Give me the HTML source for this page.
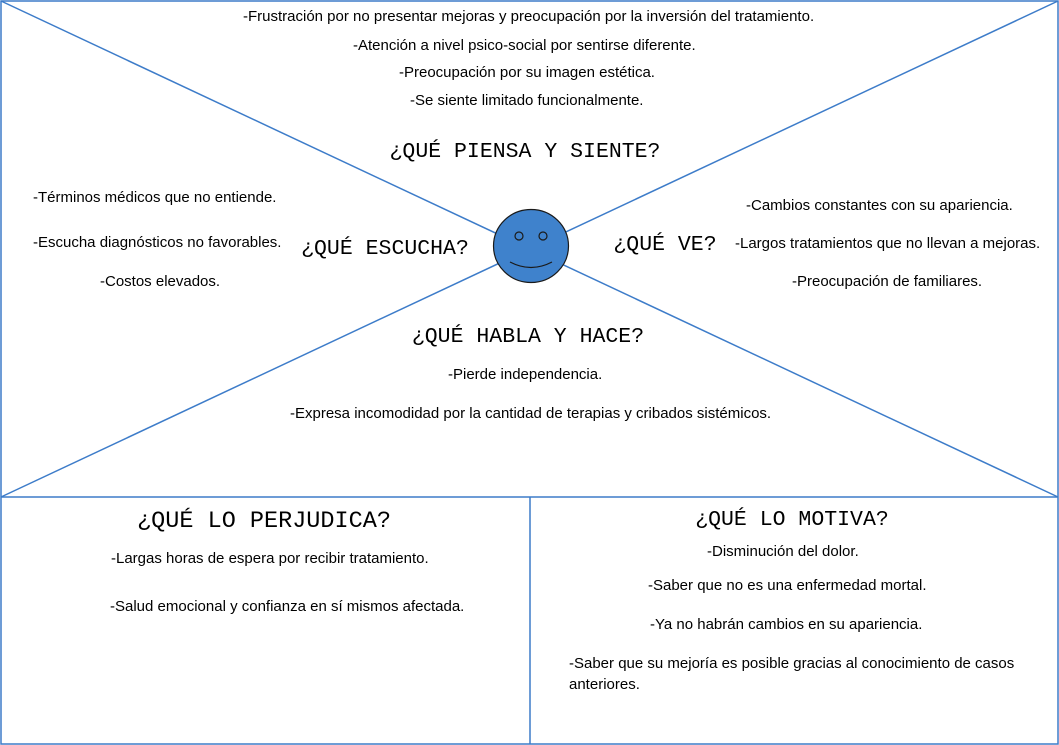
<!DOCTYPE html>
<html><head><meta charset="utf-8"><style>
html,body{margin:0;padding:0;background:#fff;}
svg{display:block;}
.b{font-family:"Liberation Sans",Arial,sans-serif;font-size:15px;fill:#000;}
.h{font-family:"Liberation Mono","Courier New",monospace;font-size:21.5px;fill:#000;}
</style></head><body>
<svg width="1059" height="745" viewBox="0 0 1059 745" xmlns="http://www.w3.org/2000/svg">
<g stroke="#3d7cc9" stroke-width="1.5" fill="none">
<rect x="1" y="1" width="1057" height="743"/>
<line x1="1" y1="497" x2="1058" y2="497"/>
<line x1="530" y1="497" x2="530" y2="744"/>
<line x1="1" y1="1" x2="1058" y2="497"/>
<line x1="1" y1="497" x2="1058" y2="1"/>
</g>
<ellipse cx="531" cy="246" rx="37.5" ry="36.5" fill="#3f82cc" stroke="#1a1a1a" stroke-width="1.2"/>
<circle cx="519" cy="236" r="4" fill="#3f82cc" stroke="#1a1a1a" stroke-width="1.2"/>
<circle cx="543" cy="236" r="4" fill="#3f82cc" stroke="#1a1a1a" stroke-width="1.2"/>
<path d="M510 262 Q531 273 552 262" fill="none" stroke="#1a1a1a" stroke-width="1.2"/>

<text class="b" x="243" y="21">-Frustración por no presentar mejoras y preocupación por la inversión del tratamiento.</text>
<text class="b" x="353" y="50">-Atención a nivel psico-social por sentirse diferente.</text>
<text class="b" x="399" y="77">-Preocupación por su imagen estética.</text>
<text class="b" x="410" y="105">-Se siente limitado funcionalmente.</text>
<text class="h" x="525" y="157" text-anchor="middle">¿QUÉ PIENSA Y SIENTE?</text>

<text class="b" x="33" y="202">-Términos médicos que no entiende.</text>
<text class="b" x="33" y="247">-Escucha diagnósticos no favorables.</text>
<text class="b" x="100" y="286">-Costos elevados.</text>
<text class="h" x="385" y="254" text-anchor="middle">¿QUÉ ESCUCHA?</text>

<text class="h" x="665" y="250" text-anchor="middle">¿QUÉ VE?</text>
<text class="b" x="746" y="210">-Cambios constantes con su apariencia.</text>
<text class="b" x="735" y="248">-Largos tratamientos que no llevan a mejoras.</text>
<text class="b" x="792" y="286">-Preocupación de familiares.</text>

<text class="h" x="528" y="342" text-anchor="middle">¿QUÉ HABLA Y HACE?</text>
<text class="b" x="448" y="379">-Pierde independencia.</text>
<text class="b" x="290" y="418">-Expresa incomodidad por la cantidad de terapias y cribados sistémicos.</text>

<text class="h" x="264" y="527" text-anchor="middle" style="font-size:23.5px">¿QUÉ LO PERJUDICA?</text>
<text class="b" x="111" y="563">-Largas horas de espera por recibir tratamiento.</text>
<text class="b" x="110" y="611">-Salud emocional y confianza en sí mismos afectada.</text>

<text class="h" x="792" y="525" text-anchor="middle">¿QUÉ LO MOTIVA?</text>
<text class="b" x="707" y="556">-Disminución del dolor.</text>
<text class="b" x="648" y="590">-Saber que no es una enfermedad mortal.</text>
<text class="b" x="650" y="629">-Ya no habrán cambios en su apariencia.</text>
<text class="b" x="569" y="668">-Saber que su mejoría es posible gracias al conocimiento de casos</text>
<text class="b" x="569" y="689">anteriores.</text>
</svg>
</body></html>
